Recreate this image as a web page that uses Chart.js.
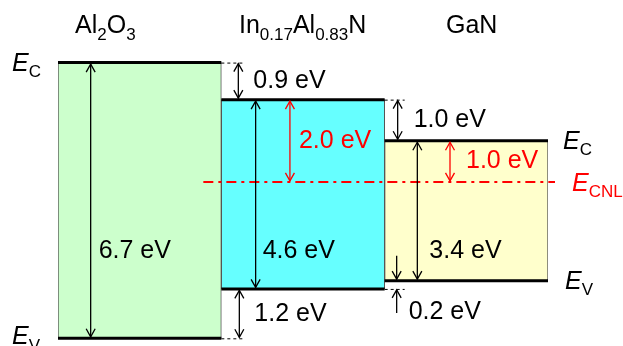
<!DOCTYPE html>
<html>
<head>
<meta charset="utf-8">
<script src="https://cdn.jsdelivr.net/npm/chart.js@4"></script>
<style>
    html, body { margin: 0; padding: 0; background: #fff; }
    #wrap { width: 623px; height: 346px; position: relative; }
</style>
</head>
<body>
<div id="wrap"><canvas id="chart"></canvas></div>
<script>
// band edges in eV, GaN valence band as zero
const materials = [ 'Al2O3', 'In0.17Al0.83N', 'GaN' ];
const conductionBand = [ 5.3, 4.4, 3.4 ];
const valenceBand = [ -1.4, -0.2, 0 ];
const cnlLevel = 2.4;
const gapLabels = [ '6.7 eV', '4.6 eV', '3.4 eV' ];
const cbOffsetLabels = [ '0.9 eV', '1.0 eV' ];
const vbOffsetLabels = [ '1.2 eV', '0.2 eV' ];
const cnlLabels = [ '2.0 eV', '1.0 eV' ];
const fillColors = [ '#ccffcc', '#66ffff', '#ffffcc' ];

const FONT = '"Liberation Sans", Arial, sans-serif';

function richText( ctx, x, y, parts, size, color )
{
    ctx.fillStyle = color;
    ctx.textBaseline = 'alphabetic';
    ctx.textAlign = 'left';
    for ( const p of parts ) {
        const s = p.sub ? size * 0.68 : size;
        ctx.font = ( p.italic ? 'italic ' : '' ) + s + 'px ' + FONT;
        ctx.fillText( p.t, x, p.sub ? y + size * 0.26 : y );
        x += ctx.measureText( p.t ).width;
    }
}

function arrowHead( ctx, x, tip, dir )
{
    // dir = -1 points up, 1 points down
    ctx.beginPath();
    ctx.moveTo( x - 4.5, tip - dir * 8 );
    ctx.lineTo( x, tip );
    ctx.lineTo( x + 4.5, tip - dir * 8 );
    ctx.stroke();
}

function arrow( ctx, x, yTop, yBot, color, up, down )
{
    ctx.save();
    ctx.strokeStyle = color;
    ctx.lineWidth = 1.3;
    ctx.setLineDash( [] );
    ctx.beginPath();
    ctx.moveTo( x, yTop );
    ctx.lineTo( x, yBot );
    ctx.stroke();
    if ( up ) arrowHead( ctx, x, yTop, -1 );
    if ( down ) arrowHead( ctx, x, yBot, 1 );
    ctx.restore();
}

function hDash( ctx, x1, x2, y )
{
    ctx.save();
    ctx.strokeStyle = '#000';
    ctx.lineWidth = 1;
    ctx.setLineDash( [ 3, 3 ] );
    ctx.beginPath();
    ctx.moveTo( x1, y + 0.5 );
    ctx.lineTo( x2, y + 0.5 );
    ctx.stroke();
    ctx.restore();
}

function label( ctx, text, x, yMid, color )
{
    ctx.save();
    ctx.fillStyle = color || '#000';
    ctx.font = '25px ' + FONT;
    ctx.textAlign = 'left';
    ctx.textBaseline = 'middle';
    ctx.fillText( text, x, yMid );
    ctx.restore();
}

const bandPlugin = {
    id: 'bands',
    afterDatasetsDraw( chart )
    {
        const ctx = chart.ctx;
        const ys = chart.scales.y;
        const bars = chart.getDatasetMeta( 0 ).data;
        const left = bars.map( b => b.x - b.width / 2 );
        const right = bars.map( b => b.x + b.width / 2 );
        const w = bars.map( b => b.width );
        const ec = conductionBand.map( v => ys.getPixelForValue( v ) );
        const ev = valenceBand.map( v => ys.getPixelForValue( v ) );
        const cnl = ys.getPixelForValue( cnlLevel );

        // thick band edges
        ctx.save();
        ctx.strokeStyle = '#000';
        ctx.lineWidth = 3;
        for ( let i = 0; i < bars.length; i++ ) {
            ctx.beginPath();
            ctx.moveTo( left[ i ], ec[ i ] );
            ctx.lineTo( right[ i ], ec[ i ] );
            ctx.moveTo( left[ i ], ev[ i ] );
            ctx.lineTo( right[ i ], ev[ i ] );
            ctx.stroke();
        }
        ctx.restore();

        // offset guide dashes
        hDash( ctx, right[ 0 ], right[ 0 ] + 22, ec[ 0 ] );
        hDash( ctx, right[ 0 ], right[ 0 ] + 22, ev[ 0 ] );
        hDash( ctx, right[ 1 ], right[ 1 ] + 20, ec[ 1 ] );
        hDash( ctx, right[ 1 ], right[ 1 ] + 20, ev[ 1 ] );

        // charge neutrality level
        ctx.save();
        ctx.strokeStyle = '#ff0000';
        ctx.lineWidth = 2;
        ctx.setLineDash( [ 10, 5, 3, 5 ] );
        ctx.beginPath();
        ctx.moveTo( left[ 1 ] - 18, cnl );
        ctx.lineTo( right[ 2 ] + 7, cnl );
        ctx.stroke();
        ctx.restore();

        // band gap arrows
        const gapX = [ 0.2, 0.21, 0.2 ];
        const gapTextDx = [ 8, 7, 12 ];
        const gapTextY = ys.getPixelForValue( 0.72 );
        for ( let i = 0; i < bars.length; i++ ) {
            const x = left[ i ] + w[ i ] * gapX[ i ];
            arrow( ctx, x, ec[ i ] + 1.5, ev[ i ] - 1.5, '#000', true, true );
            label( ctx, gapLabels[ i ], x + gapTextDx[ i ], gapTextY );
        }

        // conduction band offsets
        let x = left[ 1 ] + 17;
        arrow( ctx, x, ec[ 0 ] + 1, ec[ 1 ] - 1.5, '#000', true, true );
        label( ctx, cbOffsetLabels[ 0 ], x + 15, ( ec[ 0 ] + ec[ 1 ] ) / 2 );
        x = left[ 2 ] + 13;
        arrow( ctx, x, ec[ 1 ] + 1, ec[ 2 ] - 1.5, '#000', true, true );
        label( ctx, cbOffsetLabels[ 1 ], x + 16, ( ec[ 1 ] + ec[ 2 ] ) / 2 );

        // valence band offsets
        x = left[ 1 ] + 18;
        arrow( ctx, x, ev[ 1 ] + 1.5, ev[ 0 ] - 1, '#000', true, true );
        label( ctx, vbOffsetLabels[ 0 ], x + 15, ( ev[ 0 ] + ev[ 1 ] ) / 2 );
        x = left[ 2 ] + 12;
        arrow( ctx, x, ev[ 2 ] - 25, ev[ 2 ] - 1.5, '#000', false, true );
        arrow( ctx, x, ev[ 1 ] + 1, ev[ 1 ] + 24, '#000', true, false );
        label( ctx, vbOffsetLabels[ 1 ], x + 12, ev[ 1 ] + 23 );

        // CNL to conduction band
        x = left[ 1 ] + w[ 1 ] * 0.42;
        arrow( ctx, x, ec[ 1 ] + 1.5, cnl - 1, '#ff0000', true, true );
        label( ctx, cnlLabels[ 0 ], x + 9, ( ec[ 1 ] + cnl ) / 2, '#ff0000' );
        x = left[ 2 ] + w[ 2 ] * 0.4;
        arrow( ctx, x, ec[ 2 ] + 1.5, cnl - 1, '#ff0000', true, true );
        label( ctx, cnlLabels[ 1 ], x + 16, ( ec[ 2 ] + cnl ) / 2, '#ff0000' );

        // material names
        richText( ctx, 75, 33, [ { t: 'Al' }, { t: '2', sub: true }, { t: 'O' }, { t: '3', sub: true } ], 25, '#000' );
        richText( ctx, 239, 33, [ { t: 'In' }, { t: '0.17', sub: true }, { t: 'Al' }, { t: '0.83', sub: true }, { t: 'N' } ], 25, '#000' );
        richText( ctx, 446, 33, [ { t: 'GaN' } ], 25, '#000' );

        // band edge names
        richText( ctx, 12, ec[ 0 ] + 8, [ { t: 'E', italic: true }, { t: 'C', sub: true } ], 25, '#000' );
        richText( ctx, 12, ev[ 0 ] + 6, [ { t: 'E', italic: true }, { t: 'V', sub: true } ], 25, '#000' );
        richText( ctx, right[ 2 ] + 15, ec[ 2 ] + 8, [ { t: 'E', italic: true }, { t: 'C', sub: true } ], 25, '#000' );
        richText( ctx, right[ 2 ] + 24, cnl + 9, [ { t: 'E', italic: true }, { t: 'CNL', sub: true } ], 25, '#ff0000' );
        richText( ctx, right[ 2 ] + 17, ev[ 2 ] + 8, [ { t: 'E', italic: true }, { t: 'V', sub: true } ], 25, '#000' );
    }
};

document.addEventListener( 'DOMContentLoaded', function ()
{
    const ctx = document.getElementById( 'chart' );
    new Chart( ctx, {
        type: 'bar',
        data: {
            labels: materials,
            datasets: [ {
                data: materials.map( ( m, i ) => [ valenceBand[ i ], conductionBand[ i ] ] ),
                backgroundColor: fillColors,
                borderColor: '#555',
                borderWidth: 1,
                borderSkipped: false,
                barPercentage: 1,
                categoryPercentage: 1
            } ]
        },
        options: {
            responsive: true,
            maintainAspectRatio: false,
            animation: false,
            layout: { padding: { left: 58, right: 75, top: 0, bottom: 0 } },
            plugins: {
                legend: { display: false },
                tooltip: { enabled: false }
            },
            scales: {
                x: { display: false },
                y: { display: false, min: -1.587, max: 6.821 }
            }
        },
        plugins: [ bandPlugin ]
    } );
} );
</script>
</body>
</html>
